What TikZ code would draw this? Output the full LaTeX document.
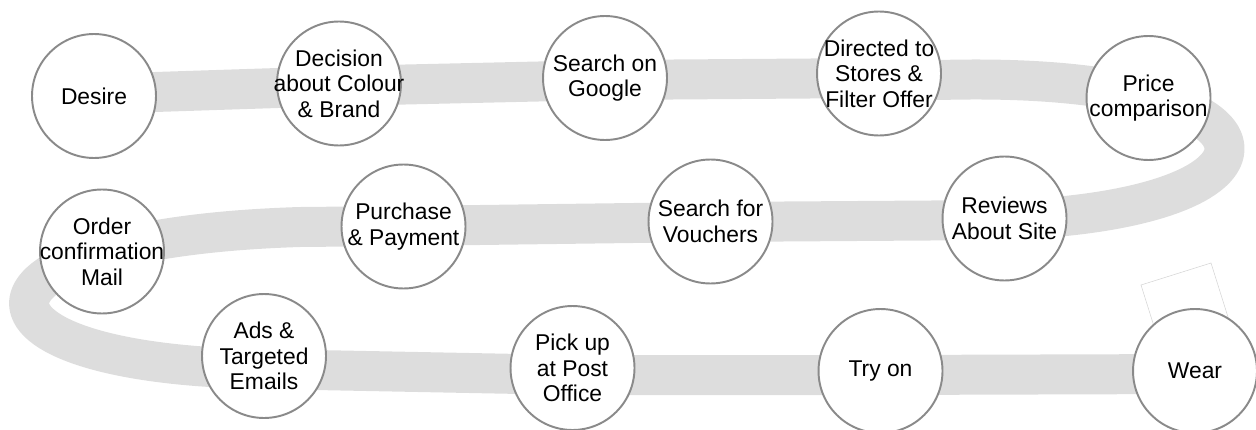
\documentclass[tikz,border=0pt]{standalone}
\usepackage{fontspec}
\setmainfont{Liberation Sans}
\definecolor{bandgray}{HTML}{DDDDDD}
\definecolor{ringgray}{HTML}{8A8A8A}
\definecolor{framegray}{HTML}{D4D4D4}
\begin{document}
\begin{tikzpicture}[x=0.02cm, y=-0.02cm,
  band/.style={draw=bandgray, line width=0.8cm, line join=round},
  frame/.style={draw=framegray, line width=0.3pt},
  caption/.style={align=center, inner sep=0pt, text=black,
    font=\fontsize{13}{14.5}\selectfont},
  stage/.style={circle, draw=ringgray, fill=white, line width=1.1pt,
    minimum size=2.48cm, inner sep=0pt},
  every label/.style={caption}]
\clip (0,0) rectangle (1256,429);

% the winding road behind the stages
\draw[band] (94,94) -- (339,86) -- (605,80) -- (879,78) -- (940,80)
  .. controls (1300,70) and (1315,210) .. (1004,220)
  -- (710,222) -- (403,226) -- (300,227)
  .. controls (-55,238) and (-55,365) .. (264,369)
  -- (572,375) -- (880,375) -- (1195,374);

% faint tilted frame near the last stage
\draw[frame] (1141,285) -- (1211,263) -- (1233,333) -- (1163,355) -- cycle;

% stages, top row
\node[stage, label={center:{Desire}}] (desire) at (94,96) {};
\node[stage, label={center:{Decision\\about Colour\\\& Brand}}] (decision) at (339,83.5) {};
\node[stage, label={center:{Search on\\Google}}] (google) at (605,78) {};
\node[stage, label={center:{Directed to\\Stores \&\\Filter Offer}}] (directed) at (879,73.5) {};
\node[stage, label={center:{Price\\comparison}}] (price) at (1148.5,98) {};

% stages, middle row
\node[stage, label={center:{Reviews\\About Site}}] (reviews) at (1004.5,218.5) {};
\node[stage, label={center:{Search for\\Vouchers}}] (vouchers) at (710.5,221.5) {};
\node[stage, label={center:{Purchase\\\& Payment}}] (purchase) at (403.5,226.5) {};
\node[stage, label={center:{Order\\confirmation\\Mail}}] (order) at (102,251.5) {};

% stages, bottom row
\node[stage, label={center:{Ads \&\\Targeted\\Emails}}] (ads) at (264,356) {};
\node[stage, label={center:{Pick up\\at Post\\Office}}] (pickup) at (572.5,368) {};
\node[stage, label={center:{Try on}}] (tryon) at (880.5,371) {};
\node[stage, label={center:{Wear}}] (wear) at (1195,371) {};
\end{tikzpicture}
\end{document}
